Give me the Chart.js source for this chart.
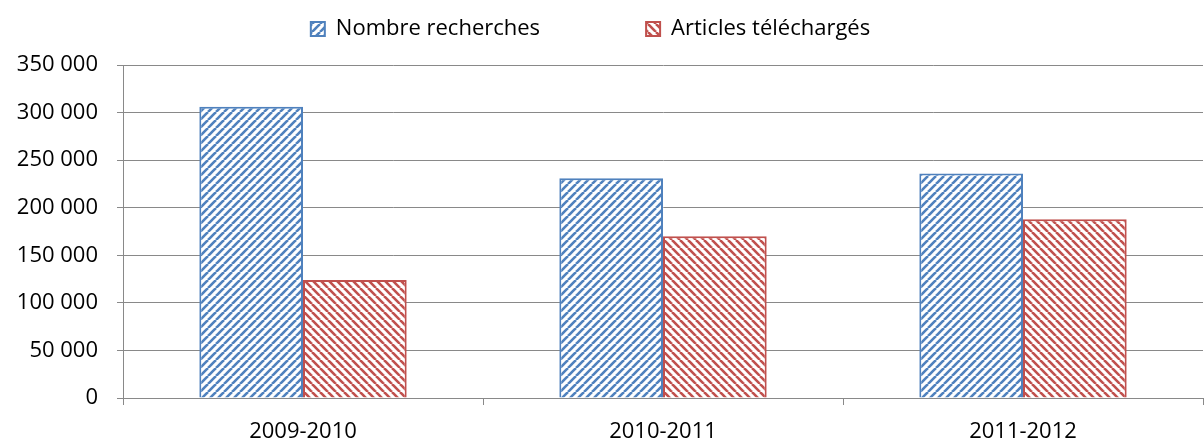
<!DOCTYPE html>
<html>
<head>
<meta charset="utf-8">
<script src="https://cdn.jsdelivr.net/npm/chart.js@4"></script>
<style>
  html, body { margin: 0; padding: 0; background: #fff; }
  #wrap { width: 1204px; height: 441px; }
</style>
</head>
<body>
<div id="wrap"><canvas id="chart"></canvas></div>
<script>
const categories = ['2009-2010', '2010-2011', '2011-2012'];
const searches = [306000, 231000, 236000];
const downloads = [124000, 170000, 188000];
const seriesLabels = ['Nombre recherches', 'Articles téléchargés'];

// diagonal stripe fill like the office hatch patterns
function stripes(color, rising) {
    const size = 8;
    const c = document.createElement('canvas');
    c.width = size; c.height = size;
    const g = c.getContext('2d');
    g.fillStyle = '#fff';
    g.fillRect(0, 0, size, size);
    g.strokeStyle = color;
    g.lineWidth = 2.6;
    for (let k = -1; k <= 1; k++) {
        g.beginPath();
        if (rising) {
            g.moveTo(k * size, size);
            g.lineTo(k * size + size, 0);
        } else {
            g.moveTo(k * size, 0);
            g.lineTo(k * size + size, size);
        }
        g.stroke();
    }
    return g.createPattern(c, 'repeat');
}

// legend band is taller than Chart.js makes it, so the plot starts lower
const legendBand = {
    id: 'legendBand',
    beforeLayout(chart) {
        const lg = chart.legend;
        if (lg && !lg._banded) {
            const fit = lg.fit.bind(lg);
            lg.fit = function () { fit(); this.height = 65; };
            lg._banded = true;
        }
    }
};

const fmt = v => String(v).replace(/\B(?=(\d{3})+(?!\d))/g, ' ');
const font = { family: "'Open Sans', 'Noto Sans', sans-serif", size: 22 };
const gridGrey = '#898989';

new Chart(document.getElementById('chart'), {
    type: 'bar',
    data: {
        labels: categories,
        datasets: [{
            label: seriesLabels[0],
            data: searches,
            backgroundColor: stripes('#4F81BD', true),
            borderColor: '#4F81BD',
            borderWidth: 2,
            barPercentage: 1,
            categoryPercentage: 0.576
        }, {
            label: seriesLabels[1],
            data: downloads,
            backgroundColor: stripes('#C0504D', false),
            borderColor: '#C0504D',
            borderWidth: 2,
            barPercentage: 1,
            categoryPercentage: 0.576
        }]
    },
    options: {
        responsive: true,
        maintainAspectRatio: false,
        animation: false,
        layout: { padding: { top: 0, right: 1, bottom: 0, left: 0 } },
        plugins: {
            legend: {
                position: 'top',
                labels: {
                    color: '#000',
                    font: font,
                    boxWidth: 14,
                    boxHeight: 14,
                    padding: 18,
                    generateLabels: chart => {
                        const items = Chart.defaults.plugins.legend.labels.generateLabels(chart);
                        // wide gap after the first entry, as in the original
                        items[0].text += '\u2003\u2003\u2003\u2003';
                        items[1].text += '\u2003';
                        return items;
                    }
                }
            },
            tooltip: { enabled: false }
        },
        scales: {
            y: {
                min: 0,
                max: 350000,
                ticks: {
                    stepSize: 50000,
                    color: '#000',
                    font: font,
                    padding: 19,
                    callback: v => fmt(v)
                },
                grid: {
                    color: gridGrey,
                    tickLength: 6,
                    tickColor: gridGrey
                },
                border: { color: gridGrey },
                afterFit: s => { s.width = 123; }
            },
            x: {
                ticks: { color: '#000', font: font, padding: 14 },
                grid: {
                    drawOnChartArea: false,
                    tickLength: 7,
                    color: gridGrey
                },
                border: { color: gridGrey },
                afterFit: s => { s.height = 43; }
            }
        }
    },
    plugins: [legendBand]
});
</script>
</body>
</html>
